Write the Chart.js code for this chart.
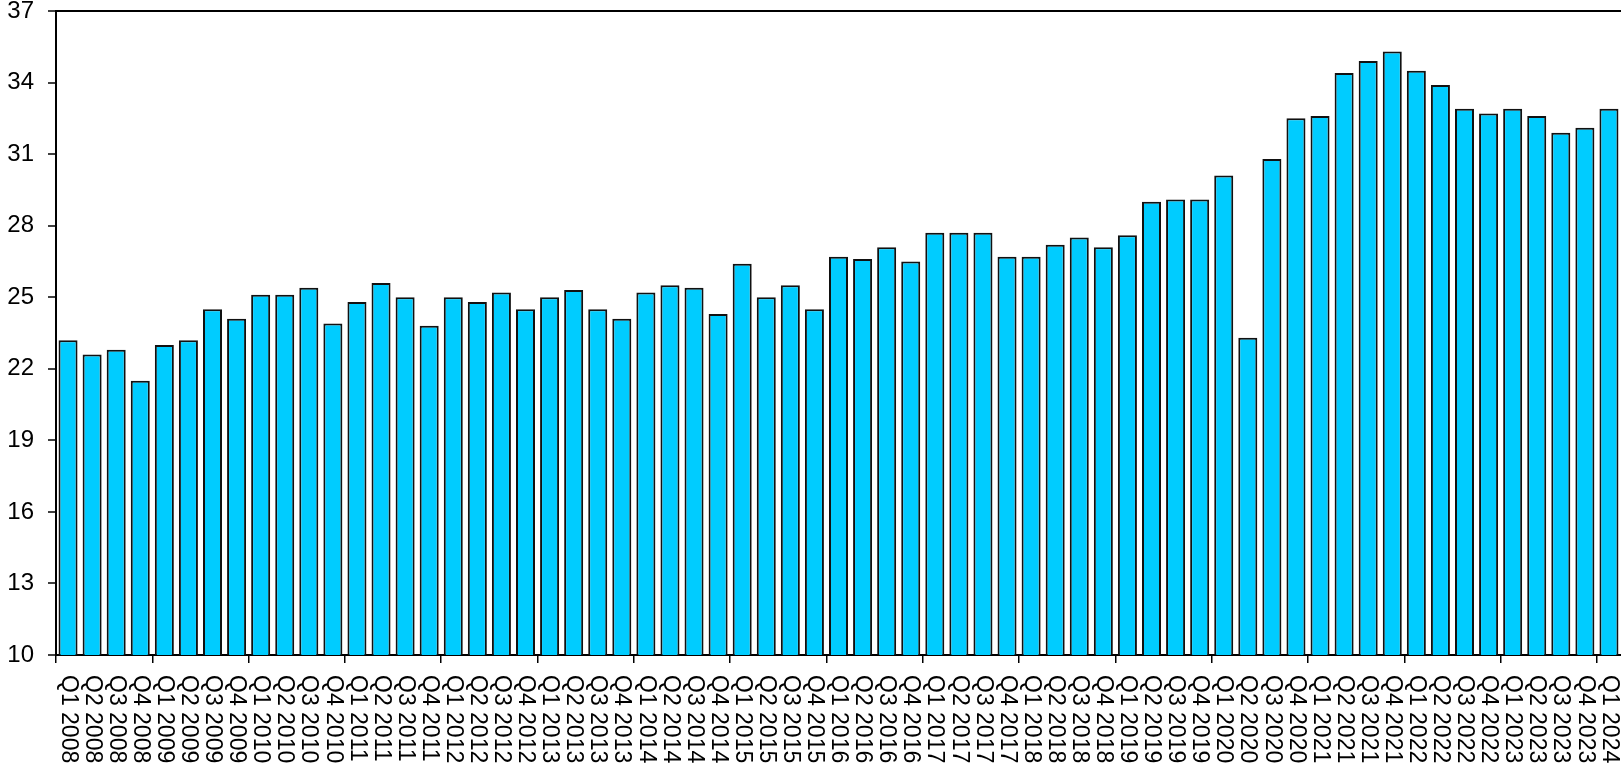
<!DOCTYPE html>
<html>
<head>
<meta charset="utf-8">
<script src="https://cdn.jsdelivr.net/npm/chart.js@4/dist/chart.umd.min.js"></script>
<style>
  html, body { margin: 0; padding: 0; background: #fff; overflow: hidden; }
  #chart { display: block; }
</style>
</head>
<body>
<canvas id="chart" width="1621" height="770"></canvas>
<script>
// quarters from Q1 2008 to Q1 2024
const quarters = [
  'Q1 2008','Q2 2008','Q3 2008','Q4 2008',
  'Q1 2009','Q2 2009','Q3 2009','Q4 2009',
  'Q1 2010','Q2 2010','Q3 2010','Q4 2010',
  'Q1 2011','Q2 2011','Q3 2011','Q4 2011',
  'Q1 2012','Q2 2012','Q3 2012','Q4 2012',
  'Q1 2013','Q2 2013','Q3 2013','Q4 2013',
  'Q1 2014','Q2 2014','Q3 2014','Q4 2014',
  'Q1 2015','Q2 2015','Q3 2015','Q4 2015',
  'Q1 2016','Q2 2016','Q3 2016','Q4 2016',
  'Q1 2017','Q2 2017','Q3 2017','Q4 2017',
  'Q1 2018','Q2 2018','Q3 2018','Q4 2018',
  'Q1 2019','Q2 2019','Q3 2019','Q4 2019',
  'Q1 2020','Q2 2020','Q3 2020','Q4 2020',
  'Q1 2021','Q2 2021','Q3 2021','Q4 2021',
  'Q1 2022','Q2 2022','Q3 2022','Q4 2022',
  'Q1 2023','Q2 2023','Q3 2023','Q4 2023',
  'Q1 2024'
]

const values = [
  23.2, 22.6, 22.8, 21.5,
  23.0, 23.2, 24.5, 24.1,
  25.1, 25.1, 25.4, 23.9,
  24.8, 25.6, 25.0, 23.8,
  25.0, 24.8, 25.2, 24.5,
  25.0, 25.3, 24.5, 24.1,
  25.2, 25.5, 25.4, 24.3,
  26.4, 25.0, 25.5, 24.5,
  26.7, 26.6, 27.1, 26.5,
  27.7, 27.7, 27.7, 26.7,
  26.7, 27.2, 27.5, 27.1,
  27.6, 29.0, 29.1, 29.1,
  30.1, 23.3, 30.8, 32.5,
  32.6, 34.4, 34.9, 35.3,
  34.5, 33.9, 32.9, 32.7,
  32.9, 32.6, 31.9, 32.1,
  32.9
]

// y axis: 10 to 37 by 3
const yMin = 10
const yMax = 37
const yStep = 3

const fontFamily = '"Liberation Sans", Arial, sans-serif'

// labels under the axis, turned to read from top to bottom
const verticalLabels = {
  id: 'verticalLabels',
  afterDraw(chart) {
    const xScale = chart.scales.x
    const ctx = chart.ctx
    const top = chart.chartArea.bottom + 20
    ctx.save()
    ctx.fillStyle = '#000'
    ctx.font = '23px ' + fontFamily
    ctx.textAlign = 'left'
    ctx.textBaseline = 'middle'
    quarters.forEach((q, i) => {
      const x = xScale.getPixelForValue(i)
      ctx.save()
      ctx.translate(x, top)
      ctx.rotate(Math.PI / 2)
      ctx.fillText(q, 0, 0)
      ctx.restore()
    })
    ctx.restore()
  }
}

new Chart(document.getElementById('chart'), {
  type: 'bar',
  data: {
    labels: quarters,
    datasets: [{
      data: values,
      backgroundColor: 'rgb(0, 204, 255)',
      borderColor: '#111',
      borderWidth: 2,
      borderSkipped: 'start',
      barPercentage: 0.79,
      categoryPercentage: 1
    }]
  },
  options: {
    responsive: false,
    animation: false,
    layout: { padding: { top: 11, left: 0, right: 0, bottom: 0 } },
    plugins: {
      legend: { display: false },
      tooltip: { enabled: false }
    },
    scales: {
      x: {
        offset: true,
        ticks: { display: false },
        grid: {
          offset: true,
          drawOnChartArea: false,
          drawTicks: true,
          tickLength: 8,
          lineWidth: 1.5,
          color: c => (c.index !== undefined && c.index % 4 === 0) ? '#000' : 'rgba(0,0,0,0)'
        },
        border: { display: true, color: '#000', width: 2 },
        afterFit: s => { s.height = 115 }
      },
      y: {
        min: yMin,
        max: yMax,
        ticks: {
          stepSize: yStep,
          color: '#000',
          padding: 14,
          font: { family: fontFamily, size: 24, lineHeight: 1 }
        },
        grid: {
          drawTicks: true,
          tickLength: 8,
          lineWidth: 2,
          tickWidth: 1.5,
          tickColor: '#000',
          color: c => (c.tick && c.tick.value === yMax) ? '#000' : 'rgba(0,0,0,0)'
        },
        border: { display: true, color: '#000', width: 2 },
        afterFit: s => {
          s.width = 56
          s.paddingTop = 0
          s.paddingBottom = 0
        }
      }
    }
  },
  plugins: [verticalLabels]
})
</script>
</body>
</html>
